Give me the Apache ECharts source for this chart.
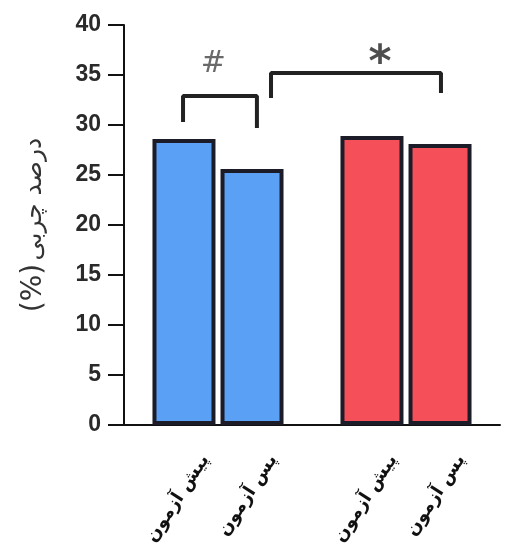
<!DOCTYPE html>
<html>
<head>
<meta charset="utf-8">
<script src="https://cdn.jsdelivr.net/npm/echarts@6/dist/echarts.min.js"></script>
<style>
  html, body { margin: 0; padding: 0; background: #fff; }
  #chart { width: 508px; height: 549px; }
</style>
</head>
<body>
<div id="chart"></div>
<script>
// groups on the x axis (two bars each)
const groups = ['گروه ۱', 'گروه ۲'];
const barNames = ['پیش آزمون', 'پس آزمون'];
const preValues = [28.6, 28.9];
const postValues = [25.6, 28.1];
const groupColors = ['#5aa0f5', '#f5505a'];
const yTicks = { min: 0, max: 40, interval: 5 };

// significance brackets, x in group units (0..2), y in %
const bracketHash = [[0.314, 30.3], [0.314, 32.9], [0.707, 32.9], [0.707, 29.7]];
const bracketStar = [[0.782, 32.7], [0.782, 35.2], [1.686, 35.2], [1.686, 33.2]];
const hashMark = [{ name: '#', value: [0.475, 36.1] }];
const starMark = [{ name: '*', value: [1.362, 36.0] }];

const chart = echarts.init(document.getElementById('chart'));

const barLabel = {
    show: true,
    position: 'bottom',
    distance: 0,
    formatter: '{a}',
    rotate: 57,
    align: 'right',
    verticalAlign: 'middle',
    offset: [-15, 35],
    color: '#111',
    fontFamily: 'DejaVu Sans',
    fontWeight: 'bold',
    fontSize: 18
};

function barSeries(name, values) {
    return {
        name: name,
        type: 'bar',
        barWidth: 63,
        barGap: '8%',
        data: values.map((v, i) => ({
            value: v,
            itemStyle: { color: groupColors[i] }
        })),
        itemStyle: {
            borderColor: '#1c1c28',
            borderWidth: 4
        },
        label: barLabel,
        silent: true
    };
}

function bracket(data) {
    return {
        type: 'line',
        xAxisIndex: 1,
        data: data,
        symbol: 'none',
        lineStyle: { color: '#222', width: 4 },
        silent: true
    };
}

function mark(data, size, weight, color) {
    return {
        type: 'scatter',
        xAxisIndex: 1,
        data: data,
        symbolSize: 1,
        itemStyle: { color: 'rgba(0,0,0,0)' },
        label: {
            show: true,
            position: 'inside',
            formatter: '{b}',
            color: color,
            fontFamily: 'DejaVu Sans',
            fontWeight: weight,
            fontSize: size
        },
        silent: true
    };
}

chart.setOption({
    animation: false,
    grid: {
        left: 124,
        top: 25,
        width: 376,
        bottom: 124
    },
    xAxis: [{
        type: 'category',
        data: groups,
        axisLine: { lineStyle: { color: '#111', width: 2 } },
        axisTick: { show: false },
        axisLabel: { show: false }
    }, {
        type: 'value',
        min: 0,
        max: 2,
        show: false
    }],
    yAxis: {
        type: 'value',
        min: yTicks.min,
        max: yTicks.max,
        interval: yTicks.interval,
        name: '{b|(%)} {a|درصد چربی}',
        nameLocation: 'middle',
        nameGap: 76,
        nameTextStyle: {
            rich: {
                a: { fontFamily: 'DejaVu Sans', fontSize: 25, color: '#333' },
                b: { fontFamily: 'DejaVu Sans', fontSize: 28, color: '#333' }
            }
        },
        axisLine: { show: true, lineStyle: { color: '#111', width: 2 } },
        axisTick: { show: true, length: 16, lineStyle: { color: '#111', width: 2 } },
        axisLabel: {
            margin: 23,
            color: '#2a2a2a',
            fontFamily: 'Liberation Sans',
            fontWeight: 'bold',
            fontSize: 23
        },
        splitLine: { show: false }
    },
    series: [
        barSeries(barNames[0], preValues),
        barSeries(barNames[1], postValues),
        bracket(bracketHash),
        bracket(bracketStar),
        mark(hashMark, 30, 'normal', '#444'),
        mark(starMark, 44, 'bold', '#222')
    ]
});
</script>
</body>
</html>
